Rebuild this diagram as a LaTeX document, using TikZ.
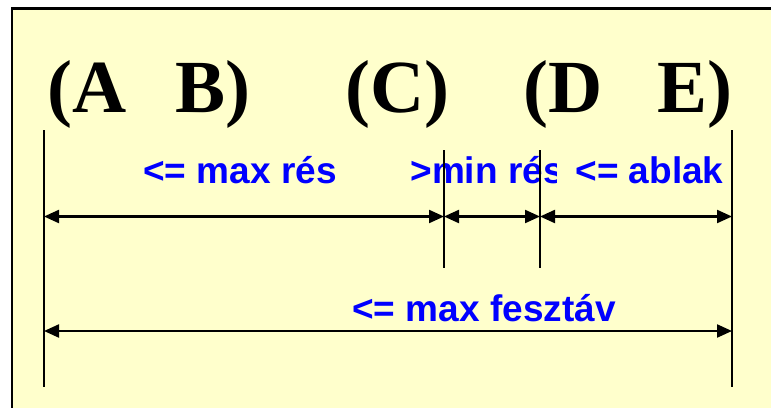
\documentclass[tikz,border=0pt]{standalone}
\usepackage{fontspec}
\setmainfont{Liberation Serif}
\setsansfont{Liberation Sans}
\usetikzlibrary{arrows.meta}
\definecolor{panelyellow}{HTML}{FFFFCC}
\definecolor{lblblue}{HTML}{0000FF}

\begin{document}
\begin{tikzpicture}[
    x=1pt, y=-1pt,
    bigltr/.style={inner sep=0pt, anchor=base,
                   font=\fontsize{75}{80}\selectfont\bfseries},
    dimlbl/.style={inner sep=0pt, anchor=base, text=lblblue,
                   font=\fontsize{37}{40}\selectfont\sffamily\bfseries},
    ext/.style={line width=2pt},
    dimarr/.style={line width=2.2pt,
                   {Triangle[length=15pt,width=13pt]}-{Triangle[length=15pt,width=13pt]}},
  ]
  \useasboundingbox (0,0) rectangle (771,407);
  % ===== panel =====
  \fill[white] (0,0) rectangle (771,407);
  \fill[panelyellow] (12,8.3) rectangle (790,420);
  \draw[line width=2.6pt] (12,420) |- (790,8.3);

  % ===== letters =====
  \node[bigltr] (ab1) at (87,112) {(A};
  \node[bigltr] (ab2) at (213,112) {B)};
  \node[bigltr] (c)   at (397.5,112) {(C)};
  \node[bigltr] (de1) at (563.5,112) {(D};
  \node[bigltr] (de2) at (695,112) {E)};

  % ===== labels =====
  \node[dimlbl] (maxres) at (240,183) {<= max rés};
  \begin{scope}
    \clip (400,150) rectangle (556,200);
    \node[dimlbl] (minres) at (487,183) {>min rés};
  \end{scope}
  \node[dimlbl] (ablak) at (649.5,183) {<= ablak};
  \node[dimlbl] (feszt) at (484,321) {<= max fesztáv};

  % ===== extension lines =====
  \coordinate (atop) at (44,130);  \coordinate (abot) at (44,387);
  \coordinate (ctop) at (444,150); \coordinate (cbot) at (444,268);
  \coordinate (dtop) at (540,150); \coordinate (dbot) at (540,268);
  \coordinate (etop) at (732,130); \coordinate (ebot) at (732,387);
  \draw[ext] (atop) -- (abot);
  \draw[ext] (ctop) -- (cbot);
  \draw[ext] (dtop) -- (dbot);
  \draw[ext] (etop) -- (ebot);

  % ===== dimension arrows =====
  \coordinate (r1a) at (44,216.5);  \coordinate (r1c) at (444,216.5);
  \coordinate (r1d) at (540,216.5); \coordinate (r1e) at (732,216.5);
  \coordinate (r2a) at (44,331);    \coordinate (r2e) at (732,331);
  \draw[dimarr] (r1a) -- (r1c);
  \draw[dimarr] (r1c) -- (r1d);
  \draw[dimarr] (r1d) -- (r1e);
  \draw[dimarr] (r2a) -- (r2e);
\end{tikzpicture}
\end{document}
